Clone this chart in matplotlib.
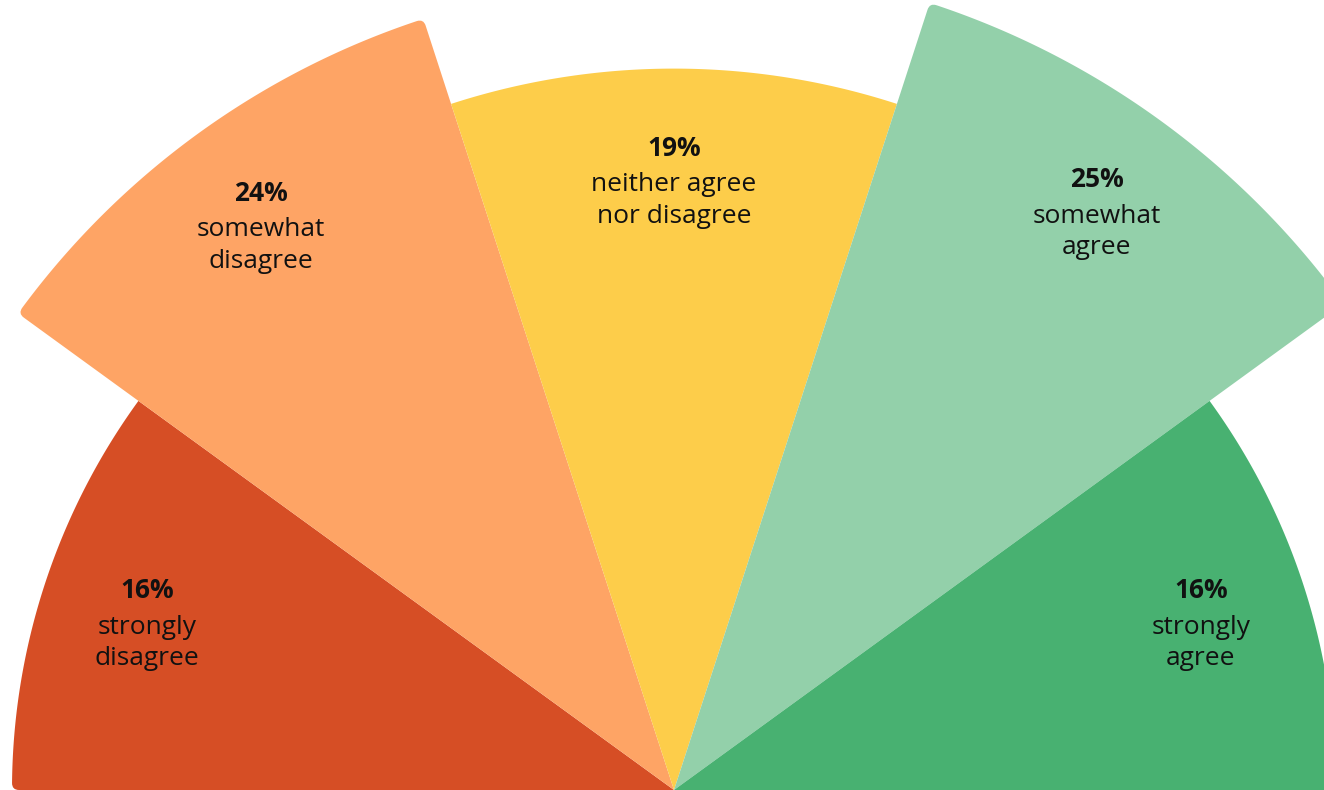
import numpy as np
import matplotlib
matplotlib.use("Agg")
from matplotlib import pyplot as plt
from matplotlib.path import Path
from matplotlib.patches import PathPatch

# survey answers, left to right around the half circle
labels = ["strongly\ndisagree", "somewhat\ndisagree", "neither agree\nnor disagree",
          "somewhat\nagree", "strongly\nagree"]
values = [16, 24, 19, 25, 16]
colors = ["#D64E25", "#FEA465", "#FDCD4A", "#93D0AA", "#48B171"]

W, H = 1324, 790
cx, cy = 674, 0
k = 165.5          # radius scale: area of each wedge follows the value
corner = 7         # rounded outer corners

fig = plt.figure(figsize=(W / 100, H / 100), dpi=100)
ax = fig.add_axes([0, 0, 1, 1])
ax.set_xlim(0, W)
ax.set_ylim(0, H)
ax.axis("off")

n = len(values)
step = 180.0 / n
radii = [k * np.sqrt(v) for v in values]


def wedge_path(r, t1, t2, round1, round2):
    # t1 < t2 in degrees, wedge from centre, outer corners optionally rounded
    a1, a2 = np.radians(t1), np.radians(t2)
    c1 = corner if round1 else 0
    c2 = corner if round2 else 0
    verts = [(cx, cy)]
    codes = [Path.MOVETO]
    verts.append((cx + (r - c1) * np.cos(a1), cy + (r - c1) * np.sin(a1)))
    codes.append(Path.LINETO)
    if c1:
        verts.append((cx + r * np.cos(a1), cy + r * np.sin(a1)))
        verts.append((cx + r * np.cos(a1 + c1 / r), cy + r * np.sin(a1 + c1 / r)))
        codes += [Path.CURVE3, Path.CURVE3]
    for a in np.linspace(a1 + c1 / r, a2 - c2 / r, 200)[1:]:
        verts.append((cx + r * np.cos(a), cy + r * np.sin(a)))
        codes.append(Path.LINETO)
    if c2:
        verts.append((cx + r * np.cos(a2), cy + r * np.sin(a2)))
        verts.append((cx + (r - c2) * np.cos(a2), cy + (r - c2) * np.sin(a2)))
        codes += [Path.CURVE3, Path.CURVE3]
    verts.append((cx, cy))
    codes.append(Path.CLOSEPOLY)
    return Path(verts, codes)


for i, (lab, v, c) in enumerate(zip(labels, values, colors)):
    t2 = 180 - i * step
    t1 = t2 - step
    r = radii[i]
    # only round a corner that is not hidden by a bigger neighbour
    right_nb = radii[i + 1] if i + 1 < n else 0
    left_nb = radii[i - 1] if i > 0 else 0
    path = wedge_path(r, t1, t2, right_nb < r, left_nb < r)
    ax.add_patch(PathPatch(path, facecolor=c, edgecolor="none"))

    mid = np.radians((t1 + t2) / 2)
    rl = r - 108
    x = cx + rl * np.cos(mid)
    y = cy + rl * np.sin(mid) - 6
    ax.text(x, y + 34, f"{v}%", ha="center", va="center", fontsize=19,
            fontweight="bold", family="Open Sans", color="#111111")
    ax.text(x, y - 18, lab, ha="center", va="center", fontsize=19,
            family="Open Sans", color="#111111", linespacing=1.33)

fig.savefig("out.png", dpi=100)
